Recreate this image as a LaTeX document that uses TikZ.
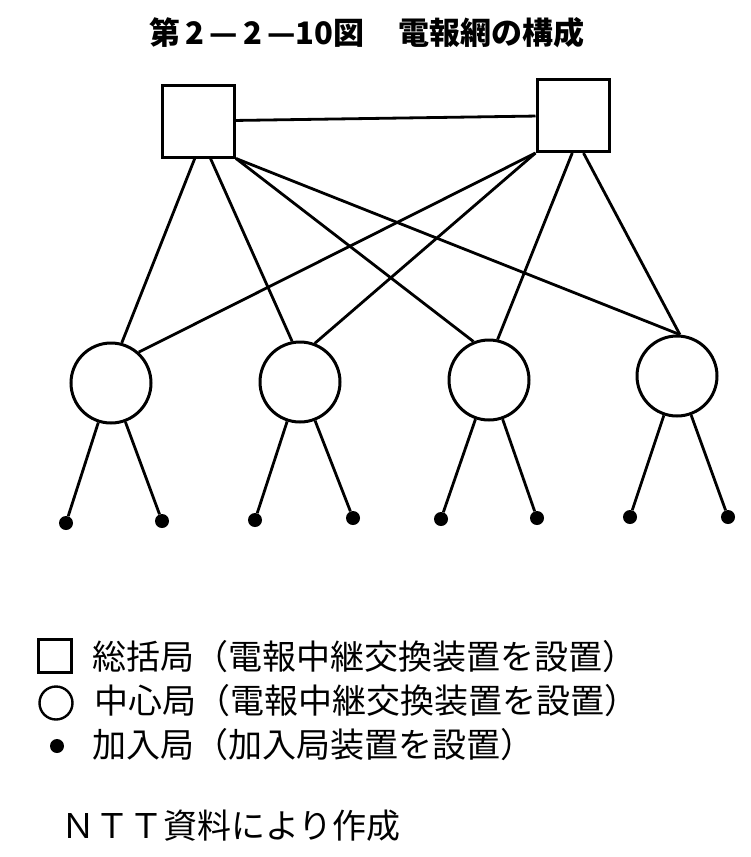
\documentclass[tikz,border=0pt]{standalone}
\usepackage{fontspec}
\setmainfont{Noto Sans CJK JP}
\usepackage{tikz}
\usetikzlibrary{calc}
\definecolor{ink}{RGB}{0,0,0}
\newcommand{\jsize}[1]{\fontsize{#1}{#1}\selectfont}
\tikzset{
  hub/.style={draw=ink,line width=3bp,minimum size=72bp,inner sep=0pt},
  ctr/.style={circle,draw=ink,line width=3bp,minimum size=80bp,inner sep=0pt},
  leaf/.style={circle,fill=ink,minimum size=14bp,inner sep=0pt},
  link/.style={draw=ink,line width=2.8bp},
  lgd/.style={anchor=west,inner sep=0pt,font=\jsize{34bp}}
}

\begin{document}
\begin{tikzpicture}[x=1bp,y=-1bp]
    \path[use as bounding box] (0,0) rectangle (751,857);
    \node[font=\bfseries\jsize{31bp}] (title) at (367,33)
      {第\,2\,—\,2\,—10図\hspace{1.1em}電報網の構成};
    % upper level
    \node[hub] (lsq) at (198.5,121) {};
    \node[hub] (rsq) at (573,115.5) {};
    % centre offices
    \node[ctr] (c1) at (111,383) {};
    \node[ctr] (c2) at (300,382) {};
    \node[ctr] (c3) at (489,380) {};
    \node[ctr] (c4) at (677,376) {};
    \foreach \n/\x/\y in {1/66/523,2/162/521,3/255/520,4/353/518,
                          5/441/519,6/537/518,7/630/517,8/728/517}
      \node[leaf] (d\n) at (\x,\y) {};
    \draw[link] (lsq) -- (rsq);
    \draw[link] ($(lsq.south west)!.45!(lsq.south east)$) -- (c1.75);
    \draw[link] ($(lsq.south west)!.66!(lsq.south east)$) -- (c2.101);
    \draw[link] (lsq.south east) -- (c3.112);
    \draw[link] (lsq.south east) -- (c4.86);
    \draw[link] (rsq.south west) -- (c1.48);
    \draw[link] (rsq.south west) -- (c2.69);
    \draw[link] ($(rsq.south west)!.49!(rsq.south east)$) -- (c3.78);
    \draw[link] ($(rsq.south west)!.64!(rsq.south east)$) -- (c4.86);
    \draw[link] (c1) -- (d1) (c1) -- (d2) (c2) -- (d3) (c2) -- (d4)
                (c3) -- (d5) (c3) -- (d6) (c4) -- (d7) (c4) -- (d8);
    % legend
    \node[hub,minimum size=33bp] (ksq) at (55,656) {};
    \node[lgd] (k1) at (92,657) {総括局（電報中継交換装置を設置）};
    \node[ctr,minimum size=33bp,line width=2.4bp] (kci) at (56,703) {};
    \node[lgd] (k2) at (94,701) {中心局（電報中継交換装置を設置）};
    \node[leaf] (kdo) at (57,746) {};
    \node[lgd] (k3) at (92,745) {加入局（加入局装置を設置）};
    \node[lgd] (src) at (61,826) {ＮＴＴ資料により作成};
  \end{tikzpicture}
\end{document}
